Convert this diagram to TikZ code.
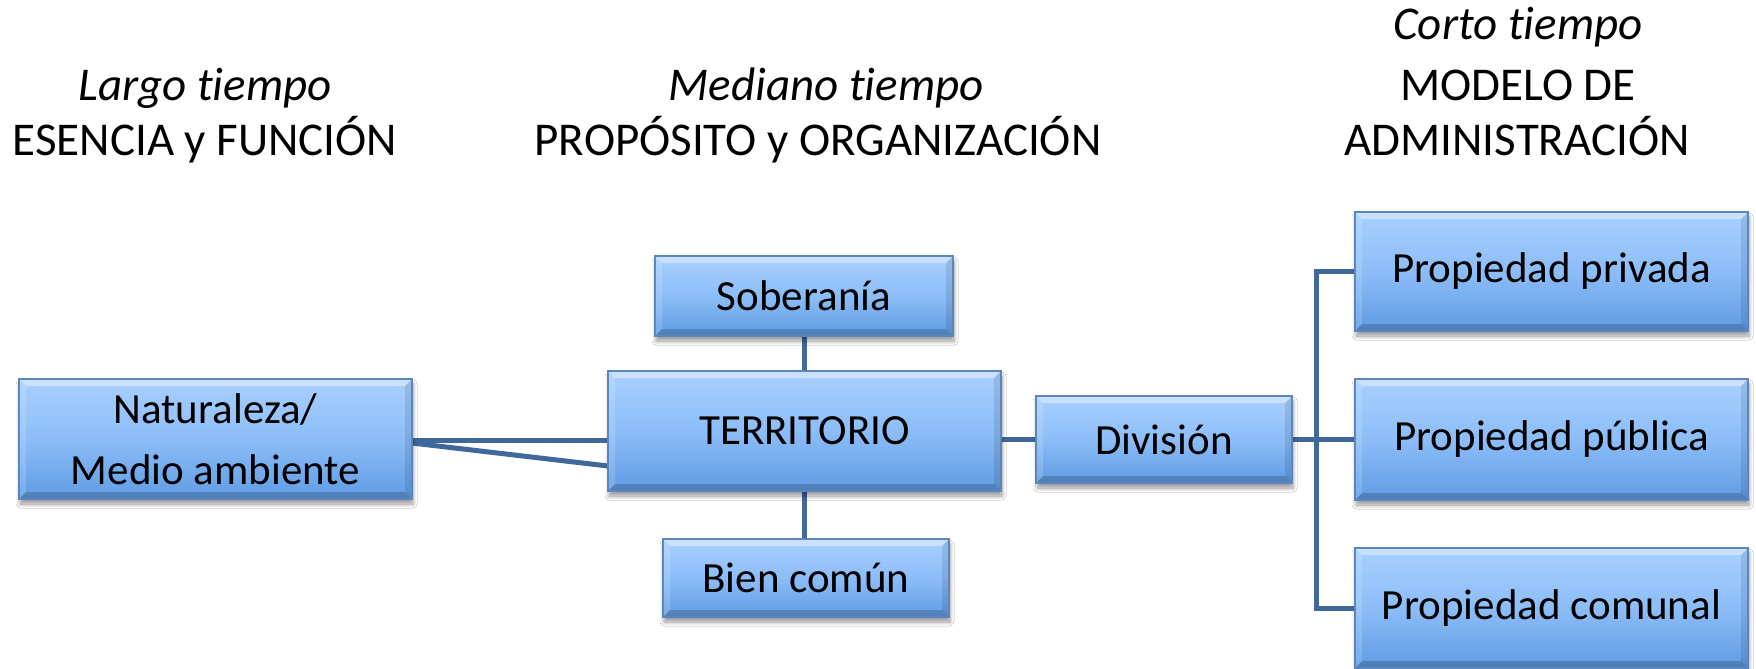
\documentclass[tikz,border=0pt]{standalone}
\usepackage{fontspec}
\setmainfont{Carlito}[Ligatures=NoCommon]
\usetikzlibrary{shadows.blur}
\definecolor{boxtop}{HTML}{A9D0FF}
\definecolor{boxmid}{HTML}{8CBDF8}
\definecolor{boxbot}{HTML}{5F9BE3}
\definecolor{boxedge}{HTML}{5B87BE}
\definecolor{linkcol}{HTML}{41689A}
\tikzset{
  bevelbox/.style={rectangle, inner sep=0pt, draw=boxedge, line width=1.2pt,
    top color=boxtop, bottom color=boxbot, middle color=boxmid,
    font=\fontsize{43}{61}\selectfont, align=center,
    blur shadow={shadow xshift=1pt, shadow yshift=-5pt, shadow blur steps=6, shadow opacity=40, shadow blur radius=4pt},
    path picture={
      \coordinate (nw) at (path picture bounding box.north west);
      \coordinate (ne) at (path picture bounding box.north east);
      \coordinate (sw) at (path picture bounding box.south west);
      \coordinate (se) at (path picture bounding box.south east);
      \fill[white,opacity=0.40] (nw) -- (ne) -- ([xshift=-7pt,yshift=-7pt]ne) -- ([xshift=7pt,yshift=-7pt]nw) -- cycle;
      \fill[white,opacity=0.15] (nw) -- ([xshift=7pt,yshift=-7pt]nw) -- ([xshift=7pt,yshift=7pt]sw) -- (sw) -- cycle;
      \fill[black,opacity=0.10] (ne) -- ([xshift=-7pt,yshift=-7pt]ne) -- ([xshift=-7pt,yshift=7pt]se) -- (se) -- cycle;
      \fill[black,opacity=0.18] (sw) -- ([xshift=7pt,yshift=7pt]sw) -- ([xshift=-7pt,yshift=7pt]se) -- (se) -- cycle;
    }},
  link/.style={draw=linkcol, line width=5pt},
  headit/.style={anchor=base, inner sep=0pt, font=\fontsize{47}{58}\selectfont\itshape},
  headup/.style={anchor=base, inner sep=0pt, font=\fontsize{47}{58}\selectfont}
}
\begin{document}
\begin{tikzpicture}[x=1pt,y=-1pt]
\useasboundingbox[fill=white] (0,0) rectangle (1756,669);
% headers
\node[headit] (h1a) at (205,100) {Largo tiempo};
\node[headup] (h1b) at (205,155) {ESENCIA y FUNCIÓN};
\node[headit] (h2a) at (826,100) {Mediano tiempo};
\node[headup] (h2b) at (818,155) {PROPÓSITO y ORGANIZACIÓN};
\node[headit] (h3a) at (1518,40) {Corto tiempo};
\node[headup] (h3b) at (1518,100) {MODELO DE};
\node[headup] (h3c) at (1517,155) {ADMINISTRACIÓN};
% connectors (behind boxes)
\coordinate (natA) at (412,440);
\coordinate (natB) at (412,443);
\coordinate (terA) at (608,440);
\coordinate (terB) at (608,466);
\coordinate (brx) at (1316,439.5);
\draw[link] (natA) -- (terA);
\draw[link] (natB) -- (terB);
\draw[link] (804.5,336) -- (804.5,371);
\draw[link] (804.5,491) -- (804.5,539);
\draw[link] (1000,439.5) -- (1036,439.5);
\draw[link] (1292,439.5) -- (1355,439.5);
\draw[link] (1355,271.5) -| (brx) |- (1355,608);
% boxes
\node[bevelbox, minimum width=393pt, minimum height=120pt] (nat) at (215.5,439) {Naturaleza/\\Medio ambiente};
\node[bevelbox, minimum width=298pt, minimum height=80pt] (sob) at (804,296) {Soberanía};
\node[bevelbox, minimum width=393pt, minimum height=120pt] (ter) at (804.5,431) {TERRITORIO};
\node[bevelbox, minimum width=286pt, minimum height=78pt] (bien) at (806,578) {Bien común};
\node[bevelbox, minimum width=256pt, minimum height=87pt] (div) at (1164,439.5) {División};
\node[bevelbox, minimum width=393pt, minimum height=119pt] (ppriv) at (1551.5,271.5) {Propiedad privada};
\node[bevelbox, minimum width=393pt, minimum height=121pt] (ppub) at (1551.5,439.5) {Propiedad pública};
\node[bevelbox, minimum width=393pt, minimum height=120pt] (pcom) at (1551.5,608) {Propiedad comunal};
\end{tikzpicture}
\end{document}
